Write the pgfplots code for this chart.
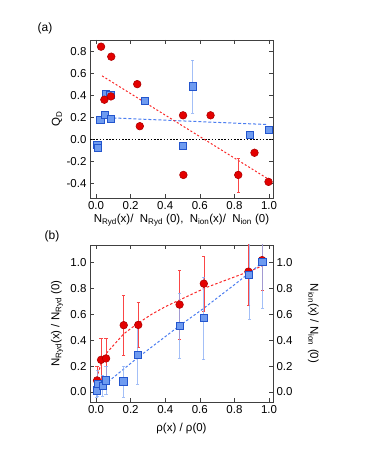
\documentclass[border=0pt]{standalone}
\usepackage{fontspec}
\setmainfont{Liberation Sans}
\usepackage{pgfplots}
\pgfplotsset{compat=1.18}

\definecolor{redfill}{RGB}{228,0,0}
\definecolor{rededge}{RGB}{175,0,0}
\definecolor{bluefill}{RGB}{110,155,240}
\definecolor{blueedge}{RGB}{35,85,205}
\definecolor{redline}{RGB}{250,40,40}
\definecolor{blueline}{RGB}{75,125,240}
\definecolor{rederr}{RGB}{250,70,70}
\definecolor{blueerr}{RGB}{140,175,245}

\pgfplotsset{
  panel/.style={
    scale only axis, width=183pt,
    xmin=-0.035, xmax=1.023,
    xtick={0,0.2,0.4,0.6,0.8,1.0},
    tick align=inside, major tick length=4pt,
    axis line style={line width=0.7pt, black!75},
    tick style={line width=0.6pt, black!75},
    ticklabel style={font=\fontsize{11.5}{13}\selectfont},
    label style={font=\fontsize{11.5}{13}\selectfont},
    /pgf/number format/.cd, fixed, fixed zerofill, precision=1,
    assume math mode=true, /pgfplots/.cd,
  },
  redpts/.style={only marks, mark=*, mark size=3.8pt,
    mark options={fill=redfill, draw=rededge, line width=0.6pt},
    error bars/.cd, y dir=both, y explicit,
    error bar style={rederr, line width=0.6pt},
    error mark options={rotate=90, mark size=1.6pt, rederr, line width=0.6pt}},
  bluepts/.style={only marks, mark=square*, mark size=3.6pt,
    mark options={fill=bluefill, draw=blueedge, line width=0.8pt},
    error bars/.cd, y dir=both, y explicit,
    error bar style={blueerr, line width=0.7pt, opacity=0.8},
    error mark options={rotate=90, mark size=1.6pt, blueerr, line width=0.6pt}},
}

\begin{document}
\begin{tikzpicture}
\useasboundingbox (0pt,0pt) rectangle (366pt,473pt);

\node[font=\fontsize{12}{14}\selectfont] at (45pt,445pt) {(a)};
\node[font=\fontsize{12}{14}\selectfont] at (52pt,237pt) {(b)};

% panel (a)
\begin{axis}[panel, at={(90pt,275pt)}, anchor=south west, height=158pt,
    ymin=-0.533, ymax=0.906,
    ytick={-0.4,-0.2,0,0.2,0.4,0.6,0.8},
    xlabel={N\textsubscript{Ryd}(x)/\; N\textsubscript{Ryd} (0),\; N\textsubscript{ion}(x)/\; N\textsubscript{ion} (0)},
    xlabel style={at={(axis description cs:0.5,-0.14)}, anchor=center},
    ylabel={Q\textsubscript{D}},
    ylabel style={at={(axis description cs:-0.18,0.5)}, anchor=center},
  ]
  \addplot[black, line width=1.6pt, dash pattern=on 1.6pt off 1.6pt] coordinates {(-0.035,0) (1.023,0)};
  \addplot[blueline, line width=1pt, dash pattern=on 3pt off 2pt] coordinates {(0.10,0.196) (0.99,0.136)};
  \addplot[redline, line width=1pt, dash pattern=on 2pt off 2pt] coordinates {(0.035,0.579) (0.997,-0.362)};
  \addplot[bluepts] coordinates {
    (0.008,-0.05) +- (0,0)
    (0.012,-0.08) +- (0,0)
    (0.025,0.18) +- (0,0)
    (0.052,0.226) +- (0,0)
    (0.056,0.413) +- (0,0)
    (0.083,0.407) +- (0,0)
    (0.088,0.187) +- (0,0)
    (0.282,0.353) +- (0,0)
    (0.559,0.483) +- (0,0.242)
    (0.503,-0.06) +- (0,0)
    (0.891,0.045) +- (0,0)
    (0.998,0.084) +- (0,0)
  };
  \addplot[redpts] coordinates {
    (0.029,0.845) +- (0,0)
    (0.088,0.754) +- (0,0)
    (0.238,0.504) +- (0,0)
    (0.048,0.362) +- (0,0)
    (0.086,0.392) +- (0,0)
    (0.253,0.121) +- (0,0)
    (0.503,0.220) +- (0,0)
    (0.662,0.220) +- (0,0)
    (0.505,-0.323) +- (0,0)
    (0.822,-0.323) +- (0,0.155)
    (0.916,-0.121) +- (0,0)
    (0.997,-0.386) +- (0,0)
  };
\end{axis}

% panel (b)
\begin{axis}[panel, at={(90pt,71pt)}, anchor=south west, height=157pt,
    ymin=-0.077, ymax=1.137,
    ytick={0,0.2,0.4,0.6,0.8,1.0}, ytick pos=left,
    xlabel={ρ(x) / ρ(0)},
    xlabel style={at={(axis description cs:0.5,-0.172)}, anchor=center},
    ylabel={N\textsubscript{Ryd}(x) / N\textsubscript{Ryd} (0)},
    ylabel style={at={(axis description cs:-0.18,0.5)}, anchor=center},
  ]
  \addplot[redline, line width=1pt, dash pattern=on 2.5pt off 2pt] coordinates {
    (0.01,0.14) (0.03,0.22) (0.06,0.30) (0.10,0.36) (0.16,0.45) (0.24,0.53)
    (0.32,0.60) (0.40,0.66) (0.48,0.71) (0.56,0.76) (0.64,0.81) (0.72,0.85)
    (0.80,0.89) (0.88,0.93) (0.97,0.98)};
  \addplot[blueline, line width=1pt, dash pattern=on 2.5pt off 2pt] coordinates {
    (0.07,0.08) (0.24,0.265) (0.48,0.51) (0.62,0.645) (0.80,0.83) (0.97,1.01)};
  \addplot[redpts] coordinates {
    (0.006,0.090) +- (0,0.11)
    (0.029,0.249) +- (0,0.167)
    (0.058,0.260) +- (0,0.156)
    (0.160,0.517) +- (0,0.232)
    (0.244,0.519) +- (0,0.175)
    (0.483,0.676) +- (0,0.265)
    (0.623,0.838) +- (0,0.213)
    (0.881,0.931) +- (0,0.263)
    (0.960,1.020) +- (0,0.23)
  };
  \addplot[bluepts] coordinates {
    (0.004,0.013) +- (0,0.05)
    (0.010,0.065) +- (0,0.10)
    (0.038,0.050) +- (0,0.08)
    (0.058,0.090) +- (0,0.11)
    (0.158,0.082) +- (0,0.12)
    (0.240,0.288) +- (0,0.225)
    (0.483,0.512) +- (0,0.25)
    (0.623,0.571) +- (0,0.32)
    (0.885,0.905) +- (0,0.34)
    (0.962,1.008) +- (0,0.36)
  };
\end{axis}
\begin{axis}[panel, at={(90pt,71pt)}, anchor=south west, height=157pt,
    ymin=-0.077, ymax=1.137,
    ytick={0,0.2,0.4,0.6,0.8,1.0},
    axis y line*=right, axis x line=none,
    ylabel={N\textsubscript{ion}(x) / N\textsubscript{ion} (0)},
    ylabel style={at={(axis description cs:1.22,0.5)}, anchor=center, rotate=180},
  ]
\end{axis}
\end{tikzpicture}
\end{document}
